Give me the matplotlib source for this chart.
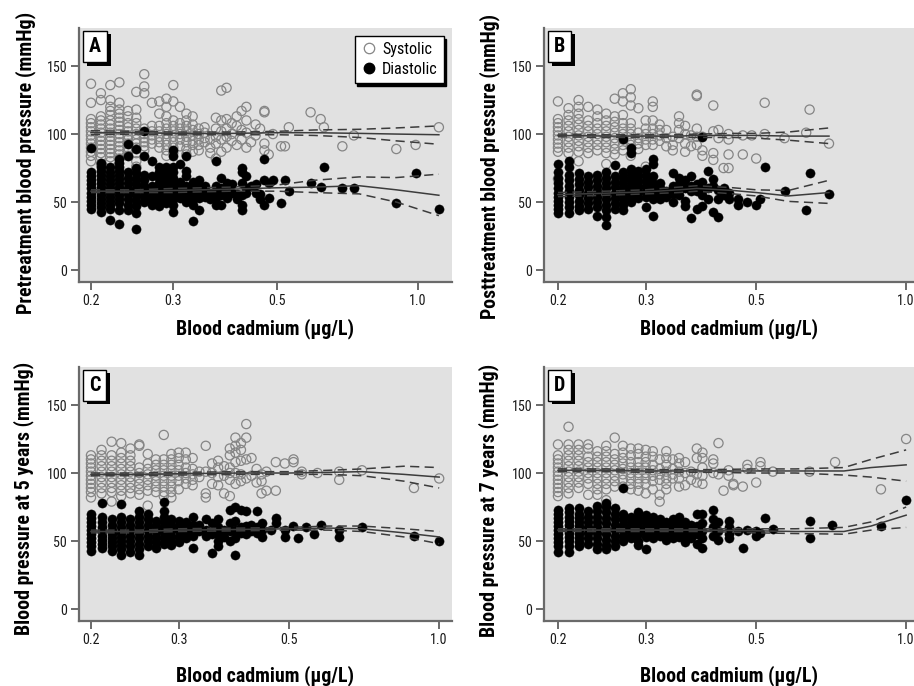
import matplotlib
matplotlib.use('Agg')
import matplotlib.pyplot as plt
import matplotlib.patheffects as pe
import matplotlib.font_manager as fm
from matplotlib.lines import Line2D
from matplotlib.ticker import FixedLocator, FixedFormatter, NullLocator


# the figure uses a narrow grotesque; take the first condensed sans face we have
def pick_family():
    cond = set()
    for f in fm.fontManager.ttflist:
        if str(f.stretch) == 'condensed' and f.style == 'normal':
            cond.add(f.name)
    prefer = ['Liberation Sans Narrow', 'Roboto Condensed', 'Arial Narrow',
              'Open Sans Condensed', 'DejaVu Sans', 'Noto Sans']
    for name in prefer:
        if name in cond:
            return name, 'condensed'
    for name in sorted(cond):
        if 'Serif' not in name and 'Mono' not in name:
            return name, 'condensed'
    return 'Liberation Sans', 'normal'


FAMILY, STRETCH = pick_family()
plt.rcParams['font.family'] = [FAMILY, 'DejaVu Sans']
plt.rcParams['font.stretch'] = STRETCH

# ---- data: (blood cadmium, [pressures at that cadmium]) ----
A_SYS = [
    (0.20, [137, 123, 111, 108, 105, 102, 99, 96, 93, 90, 87, 84, 80]),
    (0.21, [130, 125, 113, 110, 107, 104, 101, 98, 95, 92, 89, 86, 83, 78]),
    (0.22, [136, 125, 120, 117, 114, 110, 107, 104, 101, 98, 95, 92, 89, 86, 83, 80]),
    (0.23, [138, 123, 118, 115, 112, 109, 106, 103, 100, 97, 94, 91, 88, 85, 82]),
    (0.24, [117, 113, 108, 105, 102, 99, 96, 93, 90, 87, 84]),
    (0.25, [131, 118, 112, 108, 104, 100, 96, 93, 90, 86, 80, 76]),
    (0.26, [144, 135, 130, 104, 100, 97, 94, 91, 88]),
    (0.27, [123, 106, 102, 99, 96, 93]),
    (0.28, [124, 115, 106, 102, 98, 94, 90]),
    (0.29, [126, 120, 113, 108, 104, 100, 96, 92, 88, 84]),
    (0.30, [136, 124, 110, 106, 102, 98, 94, 90, 86]),
    (0.31, [120, 108, 104, 100, 96, 91]),
    (0.32, [115, 110, 106, 102, 98, 94, 89, 85]),
    (0.33, [113, 107, 103, 99, 95, 92, 87]),
    (0.34, [104, 100, 96, 92, 88]),
    (0.35, [105, 101, 97, 94]),
    (0.36, [96, 90, 86]),
    (0.37, [112, 104, 98, 93, 82]),
    (0.38, [132, 110, 102, 96, 87]),
    (0.39, [134, 111, 104, 98, 90]),
    (0.40, [108, 100, 95]),
    (0.41, [113, 106, 92]),
    (0.42, [117, 103, 96]),
    (0.43, [120, 110, 101, 90]),
    (0.44, [94]),
    (0.45, [107, 99]),
    (0.46, [104]),
    (0.47, [117, 116, 93, 88]),
    (0.48, [85]),
    (0.49, [100]),
    (0.51, [91]),
    (0.52, [91]),
    (0.53, [105]),
    (0.59, [116]),
    (0.62, [111]),
    (0.63, [105]),
    (0.69, [91]),
    (0.73, [99]),
    (0.90, [89]),
    (0.99, [92]),
    (1.11, [105]),
]
A_DIA = [
    (0.20, [90, 72, 69, 66, 63, 60, 57, 54, 51, 48, 45]),
    (0.21, [79, 76, 73, 70, 67, 64, 61, 58, 55, 52, 49, 46, 43]),
    (0.22, [76, 72, 69, 66, 63, 60, 57, 54, 51, 48, 45, 37]),
    (0.23, [82, 79, 76, 73, 70, 67, 64, 61, 58, 55, 52, 49, 44, 34]),
    (0.24, [93, 84, 72, 68, 64, 60, 56, 52, 48, 44]),
    (0.25, [89, 75, 71, 67, 63, 59, 55, 51, 47, 42, 30]),
    (0.26, [102, 84, 70, 66, 62, 58, 54, 50]),
    (0.27, [80, 69, 62, 58, 55, 52, 48]),
    (0.28, [76, 72, 68, 64, 60, 57, 54, 51, 47]),
    (0.29, [76, 72, 68, 64, 61, 58, 55, 52, 49]),
    (0.30, [88, 84, 76, 72, 68, 64, 60, 56, 52, 48, 43]),
    (0.31, [78, 65, 61, 57, 53]),
    (0.32, [84, 73, 69, 62, 58, 54, 50]),
    (0.33, [65, 60, 56, 52, 48, 36]),
    (0.34, [66, 61, 57, 53, 44]),
    (0.35, [62, 58, 54]),
    (0.36, [57, 52]),
    (0.37, [80, 62, 57, 53, 48]),
    (0.38, [68, 60, 55, 48]),
    (0.39, [64, 58, 53]),
    (0.40, [63, 57]),
    (0.41, [56, 52]),
    (0.42, [75, 72, 64, 55, 48, 44]),
    (0.43, [69, 60, 57]),
    (0.44, [62]),
    (0.45, [63, 57]),
    (0.46, [56, 52]),
    (0.47, [82, 66, 48]),
    (0.48, [64, 53]),
    (0.49, [66]),
    (0.51, [49]),
    (0.52, [66]),
    (0.53, [58]),
    (0.59, [64]),
    (0.62, [61]),
    (0.63, [76]),
    (0.69, [60]),
    (0.73, [60]),
    (0.90, [49]),
    (0.99, [71]),
    (1.11, [45]),
]
B_SYS = [
    (0.20, [124, 111, 108, 105, 102, 99, 96, 93, 90, 87, 67]),
    (0.21, [119, 114, 110, 106, 102, 98, 94, 90, 86]),
    (0.22, [125, 120, 115, 111, 107, 103, 99, 95, 91, 87, 80]),
    (0.23, [120, 110, 106, 102, 98, 94, 90, 86]),
    (0.24, [118, 113, 108, 104, 100, 96, 92, 88]),
    (0.25, [115, 110, 106, 102, 98, 94, 90, 86, 78]),
    (0.26, [126, 113, 109, 105, 101, 97, 93, 89, 85]),
    (0.27, [130, 124, 114, 108, 104, 100, 96, 92, 88]),
    (0.28, [133, 127, 121, 108, 104, 100, 96, 92, 84]),
    (0.29, [119, 101, 97, 93, 89]),
    (0.30, [110, 104, 100, 96, 92, 76]),
    (0.31, [124, 120, 110, 104, 100, 96, 92]),
    (0.32, [107, 103, 99, 95]),
    (0.33, [103, 97, 91]),
    (0.34, [98, 92, 88]),
    (0.35, [113, 108, 103, 97]),
    (0.36, [106, 100, 93, 87]),
    (0.37, [99, 91]),
    (0.38, [129, 128, 104, 98, 92]),
    (0.39, [98, 88, 84]),
    (0.41, [121, 102, 86, 81]),
    (0.42, [103, 97]),
    (0.43, [75]),
    (0.44, [100, 96, 85, 75]),
    (0.47, [99, 85]),
    (0.49, [99]),
    (0.50, [82]),
    (0.52, [123, 100]),
    (0.57, [97]),
    (0.63, [101]),
    (0.64, [118]),
    (0.70, [93]),
]
B_DIA = [
    (0.20, [78, 72, 68, 64, 60, 57, 54, 51, 48, 45, 42]),
    (0.21, [80, 76, 70, 66, 62, 58, 54, 50, 46, 42]),
    (0.22, [71, 67, 63, 59, 55, 51, 47, 44]),
    (0.23, [69, 65, 61, 57, 53, 49, 45]),
    (0.24, [70, 66, 62, 58, 54, 50, 46, 40]),
    (0.25, [72, 68, 64, 60, 56, 52, 48, 44, 39, 33]),
    (0.26, [77, 69, 65, 61, 57, 53, 49, 45]),
    (0.27, [96, 72, 68, 64, 60, 56, 52, 48, 44]),
    (0.28, [90, 86, 74, 70, 66, 62, 58, 54, 50]),
    (0.29, [73, 69, 65, 61, 57, 53]),
    (0.30, [74, 70, 66, 62, 58, 54, 46]),
    (0.31, [82, 78, 69, 64, 60, 56, 52, 40]),
    (0.32, [64, 60, 56, 52]),
    (0.33, [58, 54]),
    (0.34, [71, 62, 56, 50]),
    (0.35, [68, 63, 59, 55]),
    (0.36, [66, 60, 51, 47]),
    (0.37, [69, 62, 58, 38]),
    (0.38, [63, 58, 45]),
    (0.39, [98, 65, 59, 55, 47]),
    (0.40, [73, 60, 52]),
    (0.41, [67, 62, 43]),
    (0.42, [59, 52, 39]),
    (0.43, [60, 55]),
    (0.44, [57, 52]),
    (0.46, [52, 48]),
    (0.48, [50]),
    (0.50, [48]),
    (0.51, [52]),
    (0.52, [76]),
    (0.57, [58]),
    (0.63, [44]),
    (0.64, [71]),
    (0.70, [56]),
]
C_SYS = [
    (0.20, [113, 110, 107, 104, 101, 98, 95, 92, 89, 86, 82]),
    (0.21, [117, 113, 109, 105, 101, 97, 93, 89, 85]),
    (0.22, [123, 113, 109, 105, 101, 97, 93, 89, 86, 79]),
    (0.23, [122, 115, 111, 107, 103, 99, 95, 91, 87, 83]),
    (0.24, [118, 113, 109, 105, 101, 97, 93, 89, 85]),
    (0.25, [121, 120, 104, 100, 96, 92, 88, 84]),
    (0.26, [114, 107, 103, 99, 95, 91, 87, 76]),
    (0.27, [110, 106, 102, 98, 94, 90, 86]),
    (0.28, [128, 110, 106, 102, 98, 94, 90, 86, 83]),
    (0.29, [114, 110, 106, 102, 98, 94, 90, 86, 82]),
    (0.30, [115, 111, 106, 102, 98, 94, 88]),
    (0.31, [115, 110, 104, 100, 96, 92]),
    (0.32, [111, 103, 99, 95, 91]),
    (0.33, [101, 97]),
    (0.34, [120, 101, 85, 82]),
    (0.35, [107, 100, 92]),
    (0.36, [109, 104, 97, 91]),
    (0.37, [105, 98, 85]),
    (0.38, [118, 113, 104, 100, 95, 83]),
    (0.39, [126, 120, 115, 108, 100, 92]),
    (0.40, [122, 117, 109, 99, 94]),
    (0.41, [136, 126, 110, 96]),
    (0.42, [111, 98]),
    (0.43, [103, 93]),
    (0.44, [99, 94, 85]),
    (0.45, [101, 87]),
    (0.47, [108, 87]),
    (0.49, [107]),
    (0.51, [110, 108]),
    (0.53, [101, 99]),
    (0.57, [100]),
    (0.63, [101, 95]),
    (0.70, [102]),
    (0.89, [89]),
    (1.00, [96]),
]
C_DIA = [
    (0.20, [70, 67, 64, 61, 58, 55, 52, 49, 46, 43]),
    (0.21, [78, 68, 64, 60, 57, 54, 51, 48, 45]),
    (0.22, [66, 62, 58, 55, 52, 49, 46, 43]),
    (0.23, [77, 68, 64, 60, 56, 53, 50, 47, 44, 40]),
    (0.24, [66, 62, 58, 54, 50, 46, 42]),
    (0.25, [72, 68, 64, 60, 56, 52, 48, 44, 40]),
    (0.26, [70, 66, 62, 58, 54, 50, 46]),
    (0.27, [65, 61, 57, 53, 49, 45]),
    (0.28, [79, 72, 68, 64, 60, 56, 52, 48]),
    (0.29, [66, 62, 58, 54, 50, 47]),
    (0.30, [65, 61, 57, 53, 49]),
    (0.31, [64, 60, 56, 52]),
    (0.32, [68, 62, 58, 54, 45]),
    (0.33, [62, 57]),
    (0.34, [66, 58, 54]),
    (0.35, [63, 55, 41]),
    (0.36, [66, 60, 55, 50, 46]),
    (0.37, [58, 53]),
    (0.38, [73, 63, 57, 50]),
    (0.39, [75, 65, 58, 52, 40]),
    (0.40, [73, 60, 56]),
    (0.41, [72, 61, 55]),
    (0.42, [62, 57]),
    (0.43, [72, 60, 56]),
    (0.44, [63, 58, 53]),
    (0.46, [58]),
    (0.47, [67, 63]),
    (0.49, [58, 53]),
    (0.51, [61]),
    (0.52, [52]),
    (0.54, [60]),
    (0.56, [55]),
    (0.58, [62]),
    (0.63, [58, 53]),
    (0.70, [60]),
    (0.89, [54]),
    (1.00, [50]),
]
D_SYS = [
    (0.20, [121, 113, 110, 107, 104, 101, 98, 95, 92, 89, 86, 83]),
    (0.21, [134, 121, 117, 113, 109, 105, 101, 97, 93, 89, 85]),
    (0.22, [121, 117, 113, 109, 105, 101, 97, 93, 89]),
    (0.23, [121, 118, 112, 108, 104, 100, 96, 92, 84]),
    (0.24, [116, 112, 108, 104, 100, 96, 92, 88, 84]),
    (0.25, [120, 116, 112, 108, 104, 100, 96, 92, 88, 80]),
    (0.26, [126, 114, 110, 106, 102, 98, 94, 90]),
    (0.27, [120, 115, 111, 107, 103, 99, 95, 90]),
    (0.28, [118, 113, 108, 104, 100, 96, 92, 88]),
    (0.29, [118, 114, 108, 104, 100, 96, 92, 87]),
    (0.30, [117, 112, 108, 104, 100, 96, 92, 85]),
    (0.31, [116, 112, 106, 102, 98, 94, 88]),
    (0.32, [110, 103, 99, 95, 84, 79]),
    (0.33, [116, 111, 106, 101, 96, 92, 88]),
    (0.34, [110, 103, 99, 96]),
    (0.35, [111, 107, 101, 96, 90]),
    (0.36, [108, 100, 91]),
    (0.37, [101, 95]),
    (0.38, [118, 111, 99, 93]),
    (0.39, [115, 111, 104, 98, 92]),
    (0.41, [110, 107, 100]),
    (0.42, [122, 99]),
    (0.43, [87]),
    (0.44, [102, 98]),
    (0.45, [92, 91]),
    (0.47, [90]),
    (0.48, [103, 106]),
    (0.50, [93]),
    (0.51, [108, 105]),
    (0.54, [101]),
    (0.64, [101]),
    (0.72, [108]),
    (0.89, [88]),
    (1.00, [125]),
]
D_DIA = [
    (0.20, [73, 70, 67, 64, 61, 58, 55, 52, 49, 46, 42]),
    (0.21, [74, 71, 68, 65, 62, 59, 56, 53, 50, 46, 42]),
    (0.22, [74, 70, 67, 64, 61, 58, 55, 52, 49, 46]),
    (0.23, [72, 68, 64, 60, 56, 52, 48]),
    (0.24, [76, 72, 68, 64, 60, 56, 52, 48, 44]),
    (0.25, [78, 75, 71, 67, 63, 59, 55, 51, 47, 44]),
    (0.26, [74, 70, 66, 62, 58, 54, 50, 46]),
    (0.27, [89, 70, 66, 62, 58, 54, 50]),
    (0.28, [68, 64, 60, 56, 52]),
    (0.29, [71, 67, 63, 59, 55, 50, 47]),
    (0.30, [69, 65, 61, 57, 53, 44]),
    (0.31, [68, 64, 60, 56, 52]),
    (0.32, [66, 62, 58, 54]),
    (0.33, [64, 60, 56, 51]),
    (0.34, [66, 61, 56, 52]),
    (0.35, [68, 63, 58, 53]),
    (0.36, [64, 59, 54, 49]),
    (0.37, [62, 57, 52]),
    (0.38, [70, 61, 55, 48]),
    (0.39, [70, 63, 57, 52, 45]),
    (0.41, [73, 66, 60, 54]),
    (0.42, [64, 57, 51]),
    (0.44, [65, 60, 55, 52]),
    (0.46, [57]),
    (0.47, [45]),
    (0.48, [58]),
    (0.50, [57, 54]),
    (0.51, [56]),
    (0.52, [67]),
    (0.54, [59]),
    (0.64, [65, 52]),
    (0.71, [62]),
    (0.89, [61]),
    (1.00, [80]),
]

# smoothed fits with confidence bands
A_FIT_X = [0.20, 0.25, 0.30, 0.40, 0.50, 0.60, 0.75, 0.90, 1.11]
A_SYS_FIT = [101, 101, 100.5, 100.5, 101, 101, 100.5, 100, 99.5]
A_SYS_HI = [102.5, 102, 101.5, 101.5, 102, 103, 103.5, 104.5, 106]
A_SYS_LO = [99.5, 100, 99.5, 99.5, 99.5, 99, 97.5, 95, 92.5]
A_DIA_FIT = [58, 58, 58.5, 59.5, 60.5, 61, 62, 59, 55]
A_DIA_HI = [59, 59, 60, 61, 62.5, 66, 68.5, 68, 70.5]
A_DIA_LO = [57, 57, 57, 58, 58, 57, 56, 50, 40]

B_FIT_X = [0.20, 0.25, 0.30, 0.35, 0.38, 0.45, 0.50, 0.58, 0.70]
B_SYS_FIT = [99, 98.5, 98.5, 98.5, 99, 99, 99, 98.5, 98.5]
B_SYS_HI = [100, 99.5, 99.5, 99.5, 100, 100.5, 100.5, 101.5, 104.5]
B_SYS_LO = [98, 97.5, 97.5, 97.5, 97.5, 97.5, 97, 95.5, 93]
B_DIA_FIT = [55.5, 56.5, 57.5, 59, 60, 58.5, 57, 54.5, 57]
B_DIA_HI = [57, 58, 59, 61, 62, 60.5, 59, 58.5, 66]
B_DIA_LO = [54, 55, 56, 57, 58, 56, 54.5, 50.5, 49]

C_FIT_X = [0.20, 0.25, 0.30, 0.40, 0.50, 0.60, 0.70, 0.85, 1.00]
C_SYS_FIT = [99, 99, 99.5, 100, 100, 100.5, 101, 99, 97]
C_SYS_HI = [100, 100, 100.5, 101, 101, 102, 103, 105, 104]
C_SYS_LO = [98, 98, 98.5, 99, 99, 99, 98, 94, 89]
C_DIA_FIT = [57, 57, 58, 58.5, 59, 59.5, 59, 56, 53]
C_DIA_HI = [58, 58, 59, 59.5, 60, 61, 61, 59, 57]
C_DIA_LO = [56, 56, 57, 57.5, 58, 58, 57, 53, 48]

D_FIT_X = [0.20, 0.25, 0.30, 0.40, 0.50, 0.60, 0.75, 0.85, 1.00]
D_SYS_FIT = [102, 102, 101.5, 101.5, 101.5, 101.5, 101.5, 104, 106]
D_SYS_HI = [103, 103, 102.5, 102.5, 103, 103, 104, 110, 117]
D_SYS_LO = [101, 101, 100.5, 100.5, 100, 100, 98.5, 97, 94]
D_DIA_FIT = [58, 58, 58, 58, 57.5, 57, 57, 61, 69]
D_DIA_HI = [59, 59, 59, 59, 59, 59, 60, 64, 75]
D_DIA_LO = [57, 57, 57, 57, 56, 55.5, 55, 58, 60]

XTICKS = [0.2, 0.3, 0.5, 1.0]
XTICKLABELS = ['0.2', '0.3', '0.5', '1.0']
YTICKS = [0, 50, 100, 150]

BG = '#e1e1e1'
SPINE = '#6a6a6a'
LINE = '#3c3c3c'

# starting sizes; each kind of text is refitted below to its width in the figure
XLABEL_SIZE = 14.5
TICK_SIZE = 10.5
LEGEND_SIZE = 12
LETTER_SIZE = 13


def flatten(cols):
    xs, ys = [], []
    for x, vals in cols:
        for v in vals:
            xs.append(x)
            ys.append(v)
    return xs, ys


def draw_panel(ax, letter, ylabel, sys_cols, dia_cols, fx, fits, xlim,
               ylab_xy, xlab_y):
    ax.set_facecolor(BG)
    sx, sy = flatten(sys_cols)
    dx, dy = flatten(dia_cols)
    ax.scatter(sx, sy, s=44, facecolors='none', edgecolors='#858585',
               linewidths=0.9, zorder=2)
    ax.scatter(dx, dy, s=44, facecolors='black', edgecolors='black',
               linewidths=0.3, zorder=3)
    for fit, lo, hi in fits:
        ax.plot(fx, fit, color=LINE, lw=1.1, zorder=4)
        ax.plot(fx, lo, color=LINE, lw=1.1, ls=(0, (6, 3.5)), zorder=4)
        ax.plot(fx, hi, color=LINE, lw=1.1, ls=(0, (6, 3.5)), zorder=4)

    ax.set_xscale('log')
    ax.set_xlim(*xlim)
    ax.set_ylim(-8.8, 178)
    ax.xaxis.set_major_locator(FixedLocator(XTICKS))
    ax.xaxis.set_major_formatter(FixedFormatter(XTICKLABELS))
    ax.xaxis.set_minor_locator(NullLocator())
    ax.set_yticks(YTICKS)

    for side in ('top', 'right'):
        ax.spines[side].set_visible(False)
    for side in ('left', 'bottom'):
        ax.spines[side].set_color(SPINE)
        ax.spines[side].set_linewidth(1.6)
    ax.tick_params(direction='out', length=5.5, width=1.4, color=SPINE,
                   labelsize=TICK_SIZE, labelcolor='#1a1a1a', pad=3)

    ax.set_xlabel('Blood cadmium (µg/L)', fontsize=XLABEL_SIZE, fontweight='bold')
    ax.set_ylabel(ylabel, fontsize=XLABEL_SIZE, fontweight='bold')
    ax.xaxis.set_label_coords(0.5, xlab_y)
    ax.yaxis.set_label_coords(*ylab_xy)

    t = ax.text(0.027, 0.965, letter, transform=ax.transAxes, ha='left',
                va='top', fontsize=LETTER_SIZE, fontweight='bold', zorder=6,
                bbox=dict(boxstyle='square,pad=0.3', fc='white',
                          ec='black', lw=1))
    t.get_bbox_patch().set_path_effects([
        pe.SimplePatchShadow(offset=(2.6, -2.6), shadow_rgbFace='black',
                             alpha=1),
        pe.Normal()])
    return t


fig = plt.figure(figsize=(9.14, 6.86), dpi=100)
axA = fig.add_axes([0.0864, 0.5889, 0.4081, 0.3703])
axB = fig.add_axes([0.5952, 0.5889, 0.4048, 0.3703])
axC = fig.add_axes([0.0864, 0.0948, 0.4081, 0.3703])
axD = fig.add_axes([0.5952, 0.0948, 0.4048, 0.3703])
axes = [axA, axB, axC, axD]

letters = [
    draw_panel(axA, 'A', 'Pretreatment blood pressure (mmHg)', A_SYS, A_DIA, A_FIT_X,
               [(A_SYS_FIT, A_SYS_LO, A_SYS_HI), (A_DIA_FIT, A_DIA_LO, A_DIA_HI)],
               (0.1885, 1.184), (-0.115, 0.47), -0.142),
    draw_panel(axB, 'B', 'Posttreatment blood pressure (mmHg)', B_SYS, B_DIA, B_FIT_X,
               [(B_SYS_FIT, B_SYS_LO, B_SYS_HI), (B_DIA_FIT, B_DIA_LO, B_DIA_HI)],
               (0.1875, 1.037), (-0.119, 0.456), -0.142),
    draw_panel(axC, 'C', 'Blood pressure at 5 years (mmHg)', C_SYS, C_DIA, C_FIT_X,
               [(C_SYS_FIT, C_SYS_LO, C_SYS_HI), (C_DIA_FIT, C_DIA_LO, C_DIA_HI)],
               (0.1892, 1.061), (-0.12, 0.482), -0.173),
    draw_panel(axD, 'D', 'Blood pressure at 7 years (mmHg)', D_SYS, D_DIA, D_FIT_X,
               [(D_SYS_FIT, D_SYS_LO, D_SYS_HI), (D_DIA_FIT, D_DIA_LO, D_DIA_HI)],
               (0.1875, 1.037), (-0.122, 0.476), -0.173),
]

handles = [
    Line2D([], [], ls='none', marker='o', ms=7.5, mfc='none', mec='#858585', mew=0.9),
    Line2D([], [], ls='none', marker='o', ms=7.5, mfc='black', mec='black'),
]
leg = axA.legend(handles, ['Systolic', 'Diastolic'], loc='upper right',
                 fontsize=LEGEND_SIZE, frameon=True, fancybox=False,
                 edgecolor='black', framealpha=1, borderaxespad=0.5,
                 handletextpad=0.3, handlelength=1.0, borderpad=0.35,
                 labelspacing=0.3, shadow={'color': 'black', 'alpha': 1})
leg.get_frame().set_linewidth(1)
leg.set_zorder(6)

# refit text sizes to the pixel widths measured on the figure
fig.canvas.draw()
r = fig.canvas.get_renderer()


def fit(text, target, along='width'):
    bb = text.get_window_extent(r)
    got = bb.width if along == 'width' else bb.height
    return text.get_fontsize() * target / got


xlab_size = fit(axA.xaxis.label, 178)
tick_size = fit(axA.get_yticklabels()[3], 21)
legend_size = fit(leg.get_texts()[0], 50)
letter_size = fit(letters[0], 12)
ylab_targets = [303, 305, 273, 273]
ylab_sizes = [fit(ax.yaxis.label, tgt, 'height') for ax, tgt in zip(axes, ylab_targets)]

for ax, ysz in zip(axes, ylab_sizes):
    ax.xaxis.label.set_fontsize(xlab_size)
    ax.yaxis.label.set_fontsize(ysz)
    ax.tick_params(labelsize=tick_size)
for t in letters:
    t.set_fontsize(letter_size)
for t in leg.get_texts():
    t.set_fontsize(legend_size)

fig.savefig('out.png', dpi=100, facecolor='white')
